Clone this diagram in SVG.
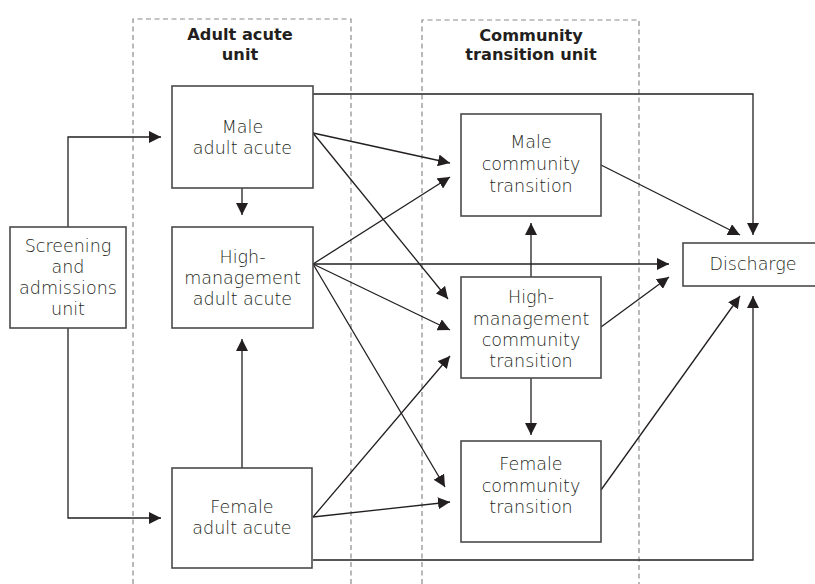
<svg xmlns="http://www.w3.org/2000/svg" width="815" height="584" viewBox="0 0 815 584">
<defs>
<marker id="ah" markerUnits="userSpaceOnUse" markerWidth="12" markerHeight="12" viewBox="0 0 12 12" refX="12" refY="6" orient="auto">
<path d="M0,0 L12,6 L0,12 z" fill="#231f20"/>
</marker>
<style>
.bx{fill:#fff;stroke:#4a4a4a;stroke-width:1.6}
.t{font-family:"DejaVu Sans","Liberation Sans",sans-serif;font-weight:200;font-size:17.5px;fill:#231f20;text-anchor:middle}
.h{font-family:"DejaVu Sans","Liberation Sans",sans-serif;font-weight:700;font-size:16.2px;fill:#231f20;text-anchor:middle}
.dash{fill:none;stroke:#8a8a8a;stroke-width:1.2;stroke-dasharray:5 3.5}
.ca{fill:none;stroke:#231f20;stroke-width:1.3;marker-end:url(#ah)}
</style>
</defs>
<rect width="815" height="584" fill="#fff"/>
<g id="units">
<path class="dash" d="M133,584 V19 H351 V584"/>
<path class="dash" d="M422,584 V20 H639 V584"/>
<text class="h" x="240" y="40">Adult acute</text>
<text class="h" x="240" y="60">unit</text>
<text class="h" x="531" y="41">Community</text>
<text class="h" x="531" y="60">transition unit</text>
</g>
<g id="connectors">
<path class="ca" d="M68,227 V137 H161"/>
<path class="ca" d="M68,328 V518 H161"/>
<path class="ca" d="M242,188 V215"/>
<path class="ca" d="M242,468 V339"/>
<path class="ca" d="M313,133 L450,163"/>
<path class="ca" d="M313,133 L448,299"/>
<path class="ca" d="M313,264 L450,177"/>
<path class="ca" d="M313,264 H669"/>
<path class="ca" d="M313,264 L450,330"/>
<path class="ca" d="M313,264 L445,487"/>
<path class="ca" d="M313,517 L450,356"/>
<path class="ca" d="M313,517 L450,502"/>
<path class="ca" d="M313,94 H753 V235"/>
<path class="ca" d="M313,560 H753 V296"/>
<path class="ca" d="M601,165 L740,235"/>
<path class="ca" d="M601,327 L669,277"/>
<path class="ca" d="M601,490 L740,296"/>
<path class="ca" d="M531,277 V223"/>
<path class="ca" d="M531,378 V435"/>
</g>
<g id="screening">
<rect class="bx" x="10" y="227" width="116" height="101"/>
<text class="t" x="68" y="252">Screening</text>
<text class="t" x="68" y="273">and</text>
<text class="t" x="68" y="294">admissions</text>
<text class="t" x="68" y="315">unit</text>
</g>
<g id="male-adult-acute">
<rect class="bx" x="172" y="86" width="141" height="102"/>
<text class="t" x="242.5" y="133">Male</text>
<text class="t" x="242.5" y="154">adult acute</text>
</g>
<g id="high-management-adult-acute">
<rect class="bx" x="172" y="227" width="141" height="101"/>
<text class="t" x="242.5" y="263">High-</text>
<text class="t" x="242.5" y="284">management</text>
<text class="t" x="242.5" y="305">adult acute</text>
</g>
<g id="female-adult-acute">
<rect class="bx" x="172" y="468" width="140" height="100"/>
<text class="t" x="242" y="513">Female</text>
<text class="t" x="242" y="534">adult acute</text>
</g>
<g id="male-community-transition">
<rect class="bx" x="461" y="114" width="140" height="102"/>
<text class="t" x="531" y="148">Male</text>
<text class="t" x="531" y="170">community</text>
<text class="t" x="531" y="192">transition</text>
</g>
<g id="high-management-community-transition">
<rect class="bx" x="461" y="277" width="140" height="101"/>
<text class="t" x="531" y="303">High-</text>
<text class="t" x="531" y="325">management</text>
<text class="t" x="531" y="346">community</text>
<text class="t" x="531" y="367">transition</text>
</g>
<g id="female-community-transition">
<rect class="bx" x="461" y="441" width="140" height="101"/>
<text class="t" x="531" y="470">Female</text>
<text class="t" x="531" y="492">community</text>
<text class="t" x="531" y="513">transition</text>
</g>
<g id="discharge">
<rect class="bx" x="683" y="243" width="140" height="43"/>
<text class="t" x="753" y="270">Discharge</text>
</g>
</svg>
